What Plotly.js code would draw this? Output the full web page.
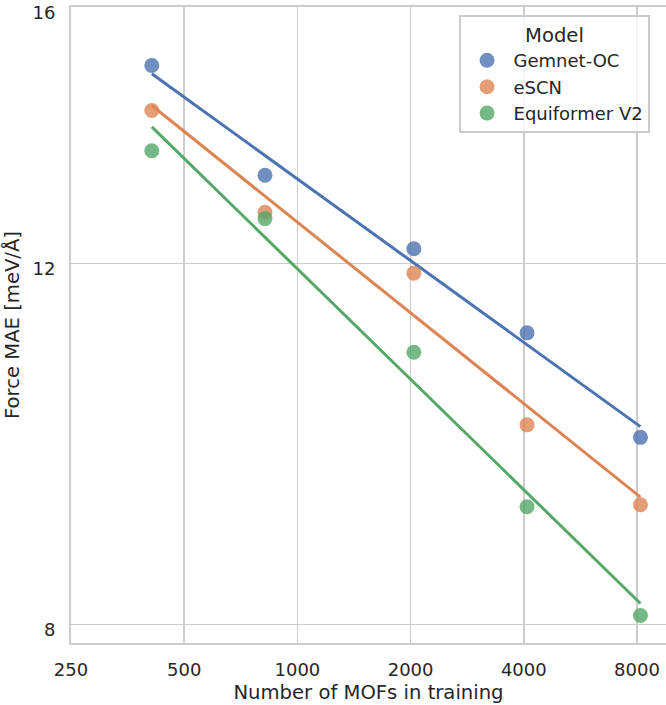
<!DOCTYPE html>
<html>
<head>
<meta charset="utf-8">
<script src="https://cdn.plot.ly/plotly-3.0.1.min.js"></script>
<style>html,body{margin:0;padding:0;background:#fff;}#chart{width:666px;height:705px;}</style>
</head>
<body>
<div id="chart"></div>
<script>
const models = ['Gemnet-OC', 'eSCN', 'Equiformer V2'];
const nMOFs = [410, 820, 2040, 4080, 8170];
const gemnetMAE = [14.99, 13.25, 12.20, 11.10, 9.87];
const escnMAE = [14.25, 12.71, 11.87, 10.01, 9.15];
const equiformerMAE = [13.62, 12.62, 10.86, 9.13, 8.08];
const fitX = [410, 8170];
const gemnetFit = [14.85, 9.99];
const escnFit = [14.33, 9.23];
const equiformerFit = [13.99, 8.19];
const xTicks = [250, 500, 1000, 2000, 4000, 8000];
const yTicks = [8, 12, 16];

const colors = ['76,114,176', '221,132,82', '85,168,104'];
const series = [gemnetMAE, escnMAE, equiformerMAE];
const fits = [gemnetFit, escnFit, equiformerFit];

const FONT = 'DejaVu Sans, sans-serif';
const TXT = '#262626';
const traces = [];
models.forEach((m, i) => {
  traces.push({
    x: nMOFs, y: series[i], type: 'scatter', mode: 'markers', name: m,
    legendgroup: 'g' + i,
    marker: {size: 15, color: 'rgba(' + colors[i] + ',0.8)', line: {width: 0}},
    cliponaxis: false
  });
  traces.push({
    x: fitX, y: fits[i], type: 'scatter', mode: 'lines', showlegend: false,
    legendgroup: 'g' + i,
    line: {color: 'rgb(' + colors[i] + ')', width: 3}
  });
});

const layout = {
  width: 666, height: 705,
  margin: {l: 71, r: 0, t: 7, b: 62},
  paper_bgcolor: '#fff', plot_bgcolor: '#fff',
  font: {family: FONT, color: TXT, size: 18},
  showlegend: true,
  xaxis: {
    type: 'log', range: [Math.log10(250), 3.9802],
    tickvals: xTicks, ticktext: xTicks.map(String),
    ticks: '', ticklabelstandoff: 9, ticklabeloverflow: 'allow',
    tickfont: {family: FONT, size: 18, color: TXT},
    showgrid: true, gridcolor: '#cccccc', gridwidth: 1.6,
    showline: true, linecolor: '#cccccc', linewidth: 2, mirror: true,
    zeroline: false, automargin: false,
    title: {text: 'Number of MOFs in training', font: {family: FONT, size: 19.6, color: TXT}, standoff: 7}
  },
  yaxis: {
    type: 'log', range: [0.89399, 1.2043],
    tickvals: yTicks, ticktext: yTicks.map(String),
    ticks: '', ticklabelstandoff: 10, ticklabelshift: 5, ticklabeloverflow: 'allow',
    tickfont: {family: FONT, size: 18, color: TXT},
    showgrid: true, gridcolor: '#cccccc', gridwidth: 1.6,
    showline: true, linecolor: '#cccccc', linewidth: 2, mirror: false,
    zeroline: false, automargin: false,
    title: {text: 'Force MAE [meV/Å]', font: {family: FONT, size: 19.6, color: TXT}, standoff: 8}
  },
  legend: {
    x: 0.652, y: 0.9874, xanchor: 'left', yanchor: 'top',
    bgcolor: 'rgba(255,255,255,0.8)', bordercolor: '#cccccc', borderwidth: 1.6,
    font: {family: FONT, size: 18, color: TXT},
    title: {text: 'Model', side: 'top center', font: {family: FONT, size: 19.6, color: TXT}},
    tracegroupgap: 0, itemwidth: 43
  }
};

Plotly.newPlot('chart', traces, layout, {displayModeBar: false, staticPlot: true});
</script>
</body>
</html>
